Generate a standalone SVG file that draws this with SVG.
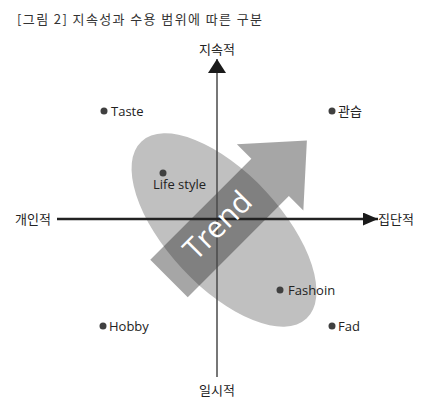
<svg xmlns="http://www.w3.org/2000/svg" width="441" height="414" viewBox="0 0 441 414">
<style>
.lbl{font-family:"Open Sans","Noto Sans CJK KR",sans-serif;font-size:13px;fill:#222}
.kr{font-family:"Noto Sans CJK KR","Noto Sans",sans-serif;font-size:13px;fill:#222}
.dot{fill:#404040}
</style>
<defs>
<marker id="ahV" markerUnits="userSpaceOnUse" markerWidth="14" markerHeight="18" refX="14" refY="9" orient="auto" viewBox="0 0 14 18">
<path d="M0,0 L14,9 L0,18 Z" fill="#1a1a1a"/>
</marker>
<marker id="ahH" markerUnits="userSpaceOnUse" markerWidth="15" markerHeight="13" refX="15" refY="6.5" orient="auto" viewBox="0 0 15 13">
<path d="M0,0 L15,6.5 L0,13 Z" fill="#1a1a1a"/>
</marker>
</defs>
<rect width="441" height="414" fill="#ffffff"/>
<text x="17" y="24" font-family="'Noto Sans CJK KR',sans-serif" font-size="13" fill="#333" textLength="245" lengthAdjust="spacing">[그림 2] 지속성과 수용 범위에 따른 구분</text>

<g id="trend-area">
<ellipse cx="224" cy="230" rx="121" ry="57" transform="rotate(47 224 230)" fill="#c0c0c0"/>
<g transform="translate(169,278.5) rotate(-45)">
<polygon points="0,-26.5 143,-26.5 143,-47 195,0 143,47 143,26.5 0,26.5" fill="#202020" fill-opacity="0.4"/>
</g>
</g>

<g id="connectors">
<line x1="217" y1="377" x2="217" y2="59" stroke="#4a4a4a" stroke-width="1.5" marker-end="url(#ahV)"/>
<line x1="57" y1="219" x2="378" y2="219" stroke="#222" stroke-width="2.5" marker-end="url(#ahH)"/>
</g>

<g id="trend-label" transform="translate(169,278.5) rotate(-45)">
<text x="72" y="7" text-anchor="middle" font-family="'Open Sans',sans-serif" font-size="30" fill="#ffffff">Trend</text>
</g>

<g id="axis-labels">
<text class="kr" x="217" y="53.5" text-anchor="middle">지속적</text>
<text class="kr" x="217" y="395" text-anchor="middle">일시적</text>
<text class="kr" x="15" y="224">개인적</text>
<text class="kr" x="378" y="224">집단적</text>
</g>

<g id="node-taste"><circle class="dot" cx="104" cy="111" r="3.5"/><text class="lbl" x="111" y="115.5">Taste</text></g>
<g id="node-gwanseup"><circle class="dot" cx="332" cy="111" r="3.5"/><text class="kr" x="338" y="115.5">관습</text></g>
<g id="node-lifestyle"><circle class="dot" cx="163" cy="173" r="3.5"/><text class="lbl" x="153" y="189">Life style</text></g>
<g id="node-fashoin"><circle class="dot" cx="280" cy="290" r="3.5"/><text class="lbl" x="288" y="294.5">Fashoin</text></g>
<g id="node-hobby"><circle class="dot" cx="103" cy="326" r="3.5"/><text class="lbl" x="109" y="331">Hobby</text></g>
<g id="node-fad"><circle class="dot" cx="332" cy="326" r="3.5"/><text class="lbl" x="338" y="331">Fad</text></g>
</svg>
